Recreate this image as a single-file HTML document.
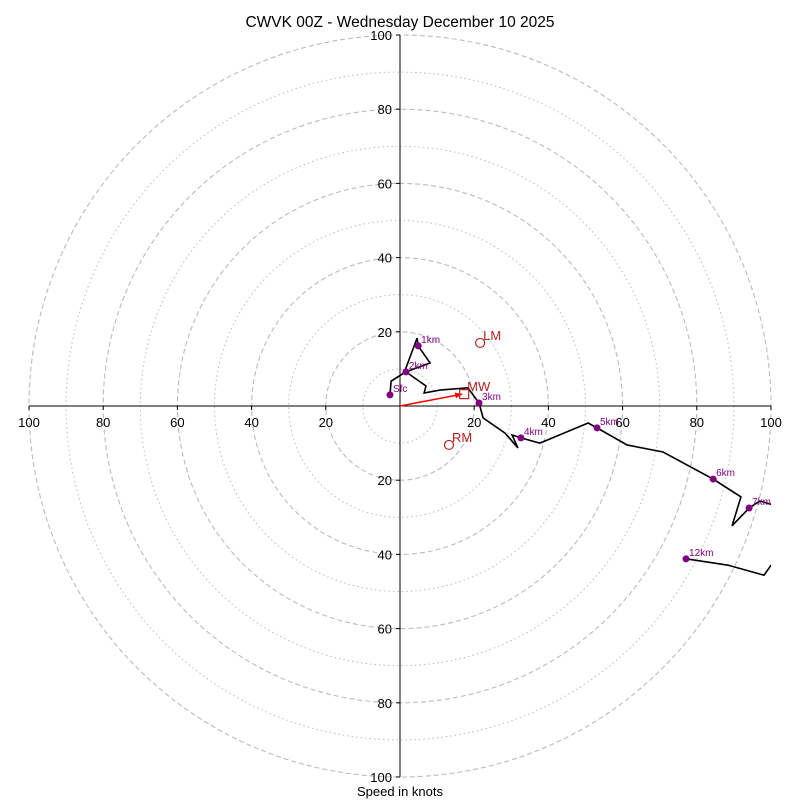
<!DOCTYPE html>
<html><head><meta charset="utf-8"><style>
body{margin:0;background:#fff}
svg{font-family:"Liberation Sans","DejaVu Sans",sans-serif}
</style></head><body>
<svg id="c" width="800" height="800" viewBox="0 0 800 800">
<defs><clipPath id="clip"><rect x="29" y="35" width="742" height="742"/></clipPath></defs>
<text x="400" y="27" text-anchor="middle" font-size="15.5">CWVK 00Z - Wednesday December 10 2025</text>
<text x="400" y="796" text-anchor="middle" font-size="13">Speed in knots</text>
<g id="rings"></g><g id="axes"></g><g id="plot" clip-path="url(#clip)"></g><g id="marks"></g>
</svg>
<script>
const rings=[10,20,30,40,50,60,70,80,90,100];
const tickVals=[20,40,60,80,100];
const trace=[[-2.7,3.0],[-2.4,6.7],[1.1,8.9],[4.6,18.3],[4.9,16.2],[8.1,11.6],[1.6,9.2],[7.0,5.4],[6.5,3.5],[10.8,4.3],[18.3,4.9],[21.3,0.8],[22.4,-3.2],[28.3,-7.3],[31.8,-11.3],[30.2,-7.8],[32.6,-8.6],[37.7,-10.0],[50.7,-4.6],[53.1,-5.9],[61.2,-10.5],[70.9,-12.4],[84.4,-19.7],[91.9,-24.5],[89.5,-32.3],[94.1,-27.5],[97.0,-25.6],[105,-28]];
const trace2=[[77.1,-41.2],[88.4,-42.9],[98.1,-45.6],[105,-36]];
const heightLabels=["Sfc","1km","2km","3km","4km","5km","6km","7km","12km"];
const heightPts=[[-2.7,3.0],[4.9,16.2],[1.6,9.2],[21.3,0.8],[32.6,-8.6],[53.1,-5.9],[84.4,-19.7],[94.1,-27.5],[77.1,-41.2]];
const lm=[21.6,17.0], rm=[13.2,-10.5], mw=[17.3,3.2];
const CX=400,CY=406,K=3.71;
const sx=u=>CX+u*K, sy=v=>CY-v*K;
const NS="http://www.w3.org/2000/svg";
function mk(t,a,p){const e=document.createElementNS(NS,t);for(const k in a)e.setAttribute(k,a[k]);p.appendChild(e);return e;}
const R=document.getElementById('rings'),A=document.getElementById('axes'),P=document.getElementById('plot'),M=document.getElementById('marks');
rings.forEach(r=>{const c=mk('circle',{cx:CX,cy:CY,r:r*K,fill:'none',stroke:'#bbb','stroke-width':r%20?1:1.1,'stroke-dasharray':r%20?'1.5,3':'5,3'},R);

});
mk('line',{x1:29,y1:CY,x2:771,y2:CY,stroke:'#000'},A);
mk('line',{x1:CX,y1:35,x2:CX,y2:777,stroke:'#000'},A);
tickVals.forEach(v=>{
 [-1,1].forEach(s=>{
  const x=sx(s*v);
  mk('line',{x1:x,y1:CY,x2:x,y2:CY+4,stroke:'#000'},A);
  const t=mk('text',{x:x,y:CY+21,'text-anchor':'middle','font-size':13},A);t.textContent=v;
  
  
  const y=sy(s*v);
  mk('line',{x1:CX-4,y1:y,x2:CX,y2:y,stroke:'#000'},A);
  const t2=mk('text',{x:CX-8,y:y+5,'text-anchor':'end','font-size':13},A);t2.textContent=v;
  
  
 });
});
const pts=a=>a.map(p=>sx(p[0])+','+sy(p[1])).join(' ');
const l1=mk('polyline',{points:pts(trace),fill:'none',stroke:'#000','stroke-width':1.6},P);


const l2=mk('polyline',{points:pts(trace2),fill:'none',stroke:'#000','stroke-width':1.6},P);


heightPts.forEach((p,i)=>{
 const c=mk('circle',{cx:sx(p[0]),cy:sy(p[1]),r:3.5,fill:'#800080'},M);
 
 
 const t=mk('text',{x:sx(p[0])+3,y:sy(p[1])-3,'font-size':10,fill:'#800080'},M);t.textContent=heightLabels[i];
 
 
});
const ar=mk('line',{x1:CX,y1:CY,x2:sx(mw[0])-2,y2:sy(mw[1]),stroke:'red','stroke-width':1.5},M);


const ang=Math.atan2(sy(mw[1])-CY,sx(mw[0])-2-CX),ex=sx(mw[0])-2,ey=sy(mw[1]);
mk('polygon',{points:`${ex},${ey} ${ex-7*Math.cos(ang)+3*Math.sin(ang)},${ey-7*Math.sin(ang)-3*Math.cos(ang)} ${ex-7*Math.cos(ang)-3*Math.sin(ang)},${ey-7*Math.sin(ang)+3*Math.cos(ang)}`,fill:'red'},M);
const sq=mk('rect',{x:sx(mw[0])-4.5,y:sy(mw[1])-4.5,width:9,height:9,fill:'none',stroke:'#b22222','stroke-width':1.2},M);


const mwT=mk('text',{x:sx(mw[0])+3,y:sy(mw[1])-3,'font-size':13,fill:'#b22222'},M);mwT.textContent='MW';


[[lm,'LM'],[rm,'RM']].forEach(([p,n])=>{
 const c=mk('circle',{cx:sx(p[0]),cy:sy(p[1]),r:4.5,fill:'none',stroke:'#b22222','stroke-width':1.2},M);
 
 
 const t=mk('text',{x:sx(p[0])+3,y:sy(p[1])-3,'font-size':13,fill:'#b22222'},M);t.textContent=n;
 
 
});
</script>
</body></html>
